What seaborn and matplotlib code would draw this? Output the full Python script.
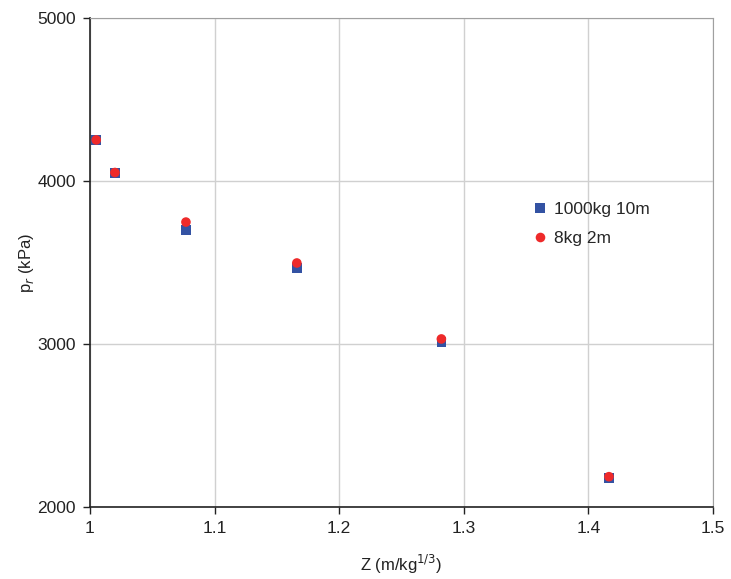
import matplotlib
matplotlib.use("Agg")
import matplotlib.pyplot as plt
import seaborn as sns
import pandas as pd

# data
z_1000kg = [1.005, 1.020, 1.077, 1.166, 1.282, 1.4165]
p_1000kg = [4252, 4049, 3700, 3466, 3012, 2178]
z_8kg = [1.005, 1.020, 1.077, 1.166, 1.282, 1.4165]
p_8kg = [4252, 4052, 3748, 3497, 3031, 2186]
series_names = ["1000kg 10m", "8kg 2m"]

df = pd.concat([
    pd.DataFrame({"Z": z_1000kg, "p": p_1000kg, "case": series_names[0]}),
    pd.DataFrame({"Z": z_8kg, "p": p_8kg, "case": series_names[1]}),
])

sns.set_theme(style="whitegrid")
plt.rcParams["font.family"] = ["Liberation Sans", "DejaVu Sans"]

fig = plt.figure(figsize=(7.31, 5.79), dpi=100)
ax = fig.add_axes([90 / 731, 72 / 579, 623 / 731, 489 / 579])

sns.scatterplot(data=df, x="Z", y="p", hue="case", style="case",
                markers={series_names[0]: "s", series_names[1]: "o"},
                palette={series_names[0]: "#3352a3", series_names[1]: "#ee2a2a"},
                s=48, linewidth=0, ax=ax)

ax.set_xlim(1.0, 1.5)
ax.set_ylim(2000, 5000)
ax.set_xticks([1.0, 1.1, 1.2, 1.3, 1.4, 1.5])
ax.set_xticklabels(["1", "1.1", "1.2", "1.3", "1.4", "1.5"])
ax.set_yticks([2000, 3000, 4000, 5000])
ax.grid(True, color="#d0d0d0", linewidth=1)

for side in ["top", "right"]:
    ax.spines[side].set_color("#a0a0a0")
    ax.spines[side].set_linewidth(0.8)
for side in ["left", "bottom"]:
    ax.spines[side].set_color("#222222")
    ax.spines[side].set_linewidth(1.2)

ax.tick_params(axis="both", which="major", direction="out", length=5, width=1,
               color="#222222", labelsize=12.5, labelcolor="#222222",
               bottom=True, left=True, pad=5)

ax.set_xlabel("Z (m/kg$^{1/3}$)", fontsize=12, color="#222222", labelpad=12)
ax.set_ylabel("p$_r$ (kPa)", fontsize=12, color="#222222", labelpad=1)

leg = ax.legend(loc="upper left", bbox_to_anchor=(0.67, 0.655), frameon=False,
                fontsize=12.5, handletextpad=-0.2, labelspacing=0.75, markerscale=1.0)

fig.savefig("out.png", dpi=100)
